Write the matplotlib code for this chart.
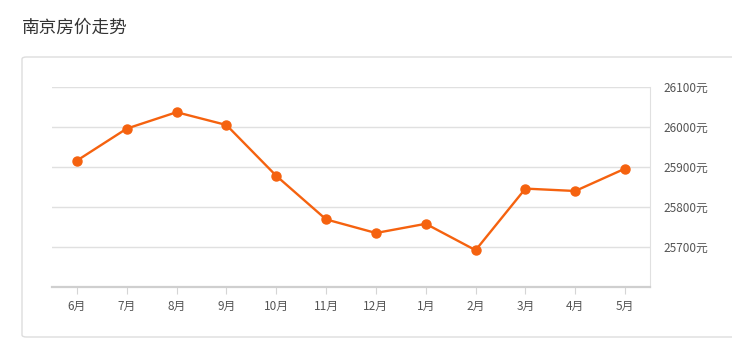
import matplotlib.pyplot as plt
from matplotlib.patches import FancyBboxPatch

plt.rcParams['font.family'] = ['Noto Sans CJK SC', 'DejaVu Sans']

months = ["6月", "7月", "8月", "9月", "10月", "11月", "12月", "1月", "2月", "3月", "4月", "5月"]
prices = [25916, 25996, 26037, 26005, 25878, 25769, 25735, 25758, 25692, 25846, 25840, 25896]
y_ticks = [25700, 25800, 25900, 26000, 26100]

W, H = 732, 353
fig = plt.figure(figsize=(W / 100, H / 100), dpi=100)

# title and outer panel
fig.text(22 / W, 1 - 28 / H, "南京房价走势", fontsize=12.7, color="#333333", va="center", ha="left")
box = FancyBboxPatch((22 / W, 1 - 337 / H), 740 / W, 280 / H,
                     boxstyle="round,pad=0,rounding_size=0.006",
                     transform=fig.transFigure, fill=False, edgecolor="#dddddd", linewidth=1)
fig.patches.append(box)

ax = fig.add_axes([52 / W, 1 - 287 / H, 598 / W, 200 / H])
x = list(range(len(months)))
ax.plot(x, prices, color="#f5620f", linewidth=1.7, marker="o", markersize=6.5, zorder=3)

ax.set_xlim(-0.5, len(months) - 0.5)
ax.set_ylim(25600, 26100)
ax.set_xticks(x)
ax.set_xticklabels(months)
ax.yaxis.tick_right()
ax.set_yticks(y_ticks)
ax.set_yticklabels([f"{v}元" for v in y_ticks])
ax.grid(axis="y", color="#e0e0e0", linewidth=1)
ax.set_axisbelow(True)

for s in ["top", "left"]:
    ax.spines[s].set_visible(False)
ax.spines["right"].set_color("#e0e0e0")
ax.spines["bottom"].set_color("#cfcfcf")
ax.spines["bottom"].set_linewidth(1.6)

ax.tick_params(axis="x", length=5, color="#d5d5d5", labelsize=8.5, labelcolor="#555555", pad=4)
ax.tick_params(axis="y", length=0, labelsize=8.5, labelcolor="#555555", pad=10)

fig.savefig("out.png", dpi=100)
